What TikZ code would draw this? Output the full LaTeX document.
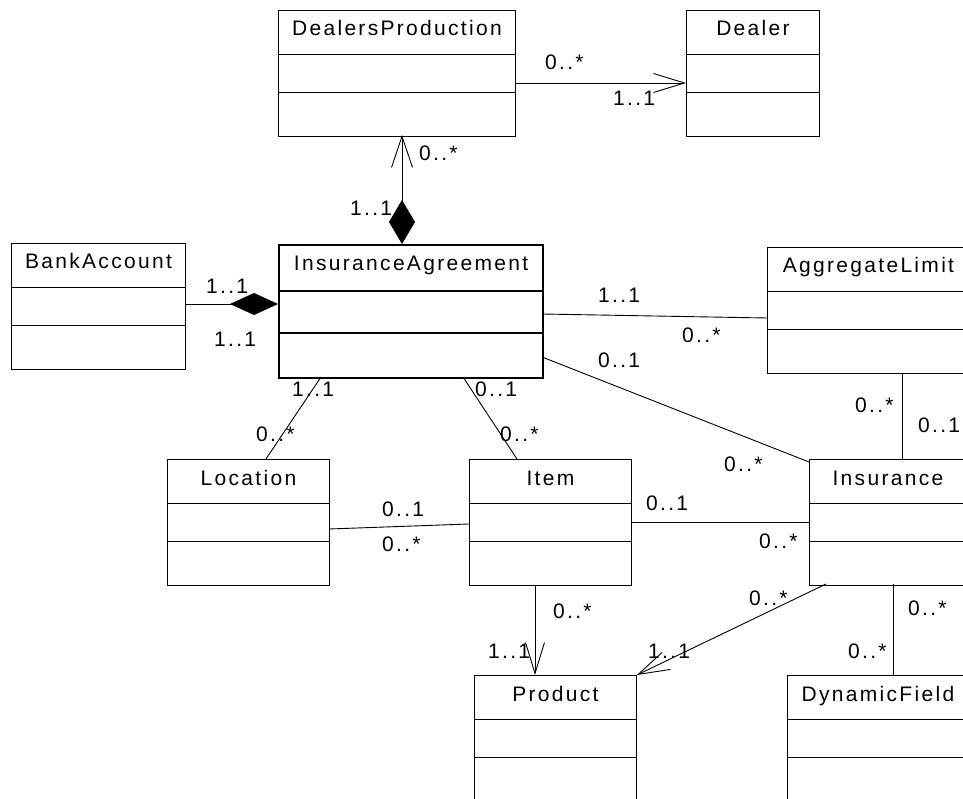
\documentclass[tikz,border=0pt]{standalone}
\usepackage{fontspec}
\setmainfont{Liberation Sans}[LetterSpace=11]
\usetikzlibrary{positioning, arrows.meta, calc}

\tikzset{
    classbox/.style={draw, line width=0.9pt, inner sep=0pt, minimum height=126pt, anchor=north west},
    classname/.style={anchor=base, inner sep=0pt},
    mult/.style={anchor=base west, inner sep=0pt},
    assoc/.style={line width=0.9pt},
    navig/.style={assoc, -{Straight Barb[length=31pt, width=19pt, line width=0.9pt]}},
}

\begin{document}
\begin{tikzpicture}[x=1pt, y=-1pt, font=\fontsize{21}{24}\selectfont]

% Canvas
\clip (0,0) rectangle (963,799);
\fill[white] (0,0) rectangle (963,799);

% Classes (name/left/top/width/title)
\foreach \nm/\x/\y/\w/\t in {
    dprod/278/10/237/DealersProduction,
    dealer/686/10/133/Dealer,
    bank/11/243/174/BankAccount,
    agg/767/247/202/AggregateLimit,
    loc/167/459/162/Location,
    item/469/459/162/Item,
    ins/809/459/157/Insurance,
    prod/474/675/162/Product,
    dyn/787/675/181/DynamicField} {
    \node[classbox, minimum width=\w pt] (\nm) at (\x,\y) {};
    \draw[line width=0.9pt] ($(\nm.north west)!0.35!(\nm.south west)$) -- ($(\nm.north east)!0.35!(\nm.south east)$);
    \draw[line width=0.9pt] ($(\nm.north west)!0.65!(\nm.south west)$) -- ($(\nm.north east)!0.65!(\nm.south east)$);
    \node[classname] (\nm-title) at ($(\nm.north)+(0,26)$) {\t};
}

% The central class, drawn heavier
\node[classbox, line width=2.2pt, minimum width=264pt, minimum height=133pt] (ia) at (278,244) {};
\draw[line width=2.2pt] ($(ia.north west)!0.35!(ia.south west)$) -- ($(ia.north east)!0.35!(ia.south east)$);
\draw[line width=2.2pt] ($(ia.north west)!0.66!(ia.south west)$) -- ($(ia.north east)!0.66!(ia.south east)$);
\node[classname] (ia-title) at ($(ia.north)+(0,27)$) {InsuranceAgreement};

% Compositions
\draw[assoc, {Diamond[length=44pt, width=26pt]}-{Straight Barb[length=31pt, width=21pt, line width=0.9pt]}]
    ($(ia.north west)+(124,0)$) -- ($(dprod.north west)+(124,125)$);
\draw[assoc, {Diamond[length=48pt, width=22pt]}-]
    ($(ia.north west)+(0,60)$) -- ($(bank.north west)+(174,61)$);

% Directed associations
\draw[navig] ($(dprod.north west)+(237,73)$) -- ($(dealer.north west)+(0,73)$);
\draw[navig] ($(item.north west)+(66,126)$) -- ($(prod.north west)+(61,0)$);
\draw[navig] ($(ins.north west)+(17,125)$) -- (prod.north east);

% Plain associations
\draw[assoc] ($(ia.north west)+(264,70)$) -- ($(agg.north west)+(0,71)$);
\draw[assoc] ($(ia.north west)+(264,113)$) -- ($(ins.north west)+(0,3)$);
\draw[assoc] ($(agg.north west)+(135,126)$) -- ($(ins.north west)+(93,0)$);
\draw[assoc] ($(ia.north west)+(43,133)$) -- ($(loc.north west)+(99,0)$);
\draw[assoc] ($(ia.north west)+(185,133)$) -- ($(item.north west)+(48,0)$);
\draw[assoc] ($(loc.north west)+(162,70)$) -- ($(item.north west)+(0,65)$);
\draw[assoc] ($(item.north west)+(162,63)$) -- ($(ins.north west)+(0,63)$);
\draw[assoc] ($(ins.north west)+(84,125)$) -- ($(dyn.north west)+(106,0)$);

% Multiplicities (name/left/baseline/text)
\foreach \nm/\x/\y/\t in {
    mdpa/545/70/0..*, mdpb/613/106/1..1,
    mdia/419/161/0..*, mdib/350/216/1..1,
    mbka/206/294/1..1, mbkb/214/346/1..1,
    maga/598/303/1..1, magb/682/342/0..*,
    minsa/598/367/0..1, minsb/724/471/0..*,
    mlima/855/412/0..*, mlimb/918/432/0..1,
    mloca/292/396/1..1, mlocb/256/441/0..*,
    mitema/475/396/0..1, mitemb/500/441/0..*,
    mlia/382/516/0..1, mlib/382/551/0..*,
    miia/646/510/0..1, miib/759/548/0..*,
    mipa/553/618/0..*, mipb/488/658/1..1,
    mnpa/749/605/0..*, mnpb/648/658/1..1,
    mdfa/908/615/0..*, mdfb/848/658/0..*} {
    \node[mult] (\nm) at (\x,\y) {\t};
}

\end{tikzpicture}
\end{document}
